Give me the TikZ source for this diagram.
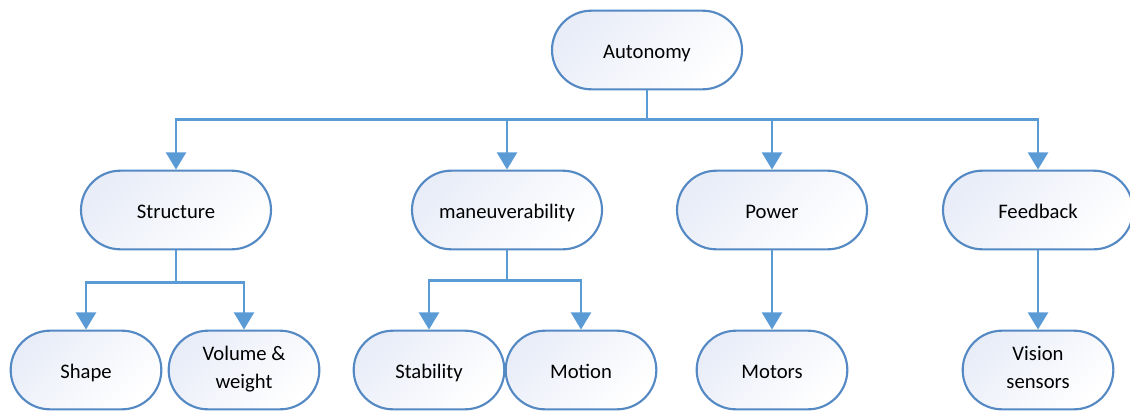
\documentclass[tikz,border=0pt]{standalone}
\usepackage{fontspec}
\setmainfont{Carlito}
\usetikzlibrary{arrows.meta}
\definecolor{edgeblue}{HTML}{5B9BD5}
\definecolor{rimblue}{HTML}{5589C4}
\definecolor{shadeblue}{HTML}{E9EDF8}
\newcommand{\vstr}{\rule[-4pt]{0pt}{20pt}}
\tikzstyle{pill}=[draw=rimblue,line width=1.6pt,rounded corners=29.5pt,top color=shadeblue,bottom color=white,shading angle=45,minimum width=142.5pt,minimum height=59pt,inner sep=0pt,align=center,font=\fontsize{15.5}{21}\selectfont,execute at begin node=\vstr,execute at end node=\vstr]
\tikzstyle{small}=[pill,minimum width=113pt]
\tikzstyle{arr}=[draw=edgeblue,line width=2.2pt,-{Triangle[width=15pt,length=13pt]}]

\begin{document}
\begin{tikzpicture}[x=0.75pt,y=-0.75pt]
  \useasboundingbox (0,0) rectangle (1130,414);
  \node[pill] (auto) at (647,50) {Autonomy};
  \node[pill] (struct) at (176,210) {Structure};
  \node[pill] (maneu) at (507,210) {maneuverability};
  \node[pill] (power) at (772,210) {Power};
  \node[pill] (feed) at (1038,210) {Feedback};
  \node[small] (shape) at (86,370) {Shape};
  \node[small] (vol) at (244,370) {Volume \&\\weight};
  \node[small] (stab) at (429,370) {Stability};
  \node[small] (motion) at (581,370) {Motion};
  \node[small] (motors) at (772,370) {Motors};
  \node[small] (vision) at (1038,370) {Vision\\sensors};
\draw[arr] (auto.south) -- ++(0,29) -| (struct.north);
\draw[arr] (auto.south) -- ++(0,29) -| (maneu.north);
\draw[arr] (auto.south) -- ++(0,29) -| (power.north);
\draw[arr] (auto.south) -- ++(0,29) -| (feed.north);
\draw[arr] (struct.south) -- ++(0,32) -| (shape.north);
\draw[arr] (struct.south) -- ++(0,32) -| (vol.north);
\draw[arr] (maneu.south) -- ++(0,30) -| (stab.north);
\draw[arr] (maneu.south) -- ++(0,30) -| (motion.north);
\draw[arr] (power) -- (motors);
\draw[arr] (feed) -- (vision);
\end{tikzpicture}
\end{document}
